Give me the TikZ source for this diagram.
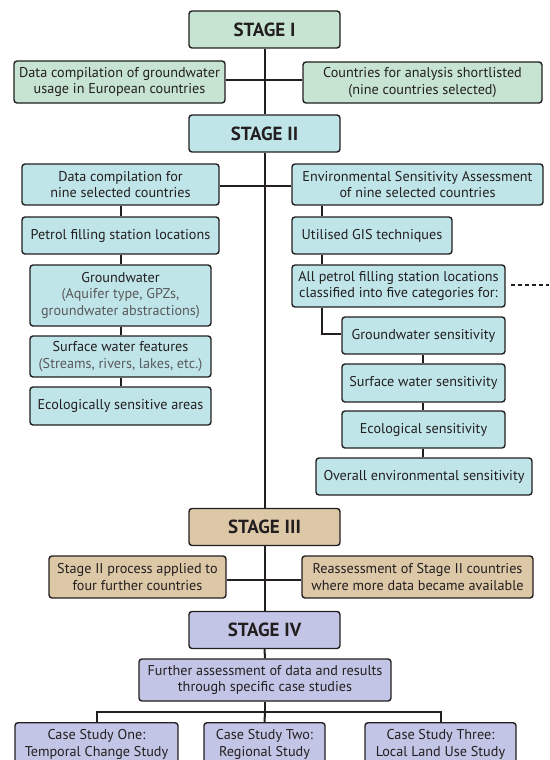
\documentclass[tikz,border=0pt]{standalone}
\usepackage{fontspec}
\setmainfont{PT Sans}
\definecolor{gI}{HTML}{C6E4D1}
\definecolor{gII}{HTML}{C0E5E9}
\definecolor{gIII}{HTML}{DCC8A7}
\definecolor{gIV}{HTML}{C3C5E6}
\definecolor{linec}{HTML}{231F20}
\definecolor{textc}{HTML}{231F20}
\definecolor{subc}{HTML}{58595B}
\begin{document}
\begin{tikzpicture}[x=1pt,y=-1pt,
  box/.style={draw=linec, line width=1.4pt, rounded corners=3pt, align=center,
    inner sep=0pt, text=textc, font=\fontsize{14.2}{16.8}\selectfont},
  stagebox/.style={box, minimum width=151pt, minimum height=37pt,
    font=\fontsize{19}{22}\selectfont\bfseries},
  conn/.style={draw=linec, line width=2pt}]
\useasboundingbox (0,0) rectangle (549,760);
\clip (0,0) rectangle (549,760);

% trunk and side branches (drawn first, boxes on top)
\coordinate (t1) at (265,80);

% Stage I
\node[stagebox, fill=gI] (s1) at (264.5,29.5) {STAGE I};
\node[box, fill=gI, minimum width=211pt, minimum height=42pt] (a1) at (119.5,82) {Data compilation of groundwater\\usage in European countries};
\node[box, fill=gI, minimum width=239pt, minimum height=41pt] (a2) at (422.5,82.5) {Countries for analysis shortlisted\\(nine countries selected)};

% Stage II
\node[stagebox, fill=gII] (s2) at (264.5,133.5) {STAGE II};
\node[box, fill=gII, minimum width=197pt, minimum height=41pt] (b1) at (120.5,184.5) {Data compilation for\\nine selected countries};
\node[box, fill=gII, minimum width=251pt, minimum height=41pt] (b2) at (417.5,184.5) {Environmental Sensitivity Assessment\\of nine selected countries};
\node[box, fill=gII, minimum width=197pt, minimum height=37pt] (pf) at (120.5,235.5) {Petrol filling station locations};
\node[box, fill=gII, minimum width=181pt, minimum height=61pt] (gw) at (120.5,295.5) {Groundwater\\{\color{subc}(Aquifer type, GPZs,}\\{\color{subc}groundwater abstractions)}};
\node[box, fill=gII, minimum width=181pt, minimum height=41pt] (sw) at (120.5,356.5) {Surface water features\\{\color{subc}(Streams, rivers, lakes, etc.)}};
\node[box, fill=gII, minimum width=181pt, minimum height=38pt] (eco) at (120.5,406) {Ecologically sensitive areas};

\node[box, fill=gII, minimum width=160pt, minimum height=37pt] (gis) at (372,235.5) {Utilised GIS techniques};
\node[box, fill=gII, minimum width=213pt, minimum height=42pt] (all) at (398.5,286) {All petrol filling station locations\\classified into five categories for:};
\node[box, fill=gII, minimum width=163pt, minimum height=37pt] (gws) at (423.5,335.5) {Groundwater sensitivity};
\node[box, fill=gII, minimum width=163pt, minimum height=38pt] (sws) at (423.5,383) {Surface water sensitivity};
\node[box, fill=gII, minimum width=163pt, minimum height=37pt] (es) at (423.5,429.5) {Ecological sensitivity};
\node[box, fill=gII, minimum width=216pt, minimum height=37pt] (ov) at (424,476.5) {Overall environmental sensitivity};
\coordinate (dashstart) at (511,285);
\coordinate (dashend) at (549,285);

% Stage III
\node[stagebox, fill=gIII] (s3) at (264.5,527) {STAGE III};
\node[box, fill=gIII, minimum width=177pt, minimum height=42pt] (c1) at (137.5,577) {Stage II process applied to\\four further countries};
\node[box, fill=gIII, minimum width=231pt, minimum height=42pt] (c2) at (417.5,577) {Reassessment of Stage II countries\\where more data became available};

% Stage IV
\node[stagebox, fill=gIV] (s4) at (264.5,630) {STAGE IV};
\node[box, fill=gIV, minimum width=252pt, minimum height=42pt] (fa) at (265,680) {Further assessment of data and results\\through specific case studies};
\node[box, fill=gIV, minimum width=163pt, minimum height=44pt, anchor=north] (cs1) at (96.5,722) {Case Study One:\\Temporal Change Study};
\node[box, fill=gIV, minimum width=121pt, minimum height=44pt, anchor=north] (cs2) at (264.5,722) {Case Study Two:\\Regional Study};
\node[box, fill=gIV, minimum width=151pt, minimum height=44pt, anchor=north] (cs3) at (440.5,722) {Case Study Three:\\Local Land Use Study};

% trunk and side branches
\path[conn] (s1.south) -- (s2.north);
\path[conn] (s2.south) -- (s3.north);
\path[conn] (s3.south) -- (s4.north);
\path[conn] (s4.south) -- (fa.north);
\path[conn] (a1.east |- 0,80) -- (a2.west |- 0,80);
\path[conn] (b1.east |- 0,186) -- (b2.west |- 0,186);
\path[conn] (c1.east |- 0,580) -- (c2.west |- 0,580);

% left chain
\path[conn] (b1.south -| 121,0) -- (pf.north -| 121,0);
\path[conn] (pf.south -| 121,0) -- (gw.north -| 121,0);
\path[conn] (gw.south -| 121,0) -- (sw.north -| 121,0);
\path[conn] (sw.south -| 121,0) -- (eco.north -| 121,0);

% right chain
\path[conn] (b2.south -| 322,0) -- (gis.north -| 322,0);
\path[conn] (gis.south -| 322,0) -- (all.north -| 322,0);
\path[conn] (all.south -| 322,0) |- (gws.west |- 0,334);
\path[conn] (gws.south -| 423,0) -- (sws.north -| 423,0);
\path[conn] (sws.south -| 423,0) -- (es.north -| 423,0);
\path[conn] (es.south -| 423,0) -- (ov.north -| 423,0);
\draw[draw=linec, line width=2pt, dash pattern=on 4pt off 3pt] (dashstart) -- (dashend);

% case study branches
\path[conn] (fa.south) -- (265,712);
\path[conn] (cs1.north) -- (96.5,712) -- (440.5,712) -- (cs3.north);
\path[conn] (265,712) -- (cs2.north);
\end{tikzpicture}
\end{document}
